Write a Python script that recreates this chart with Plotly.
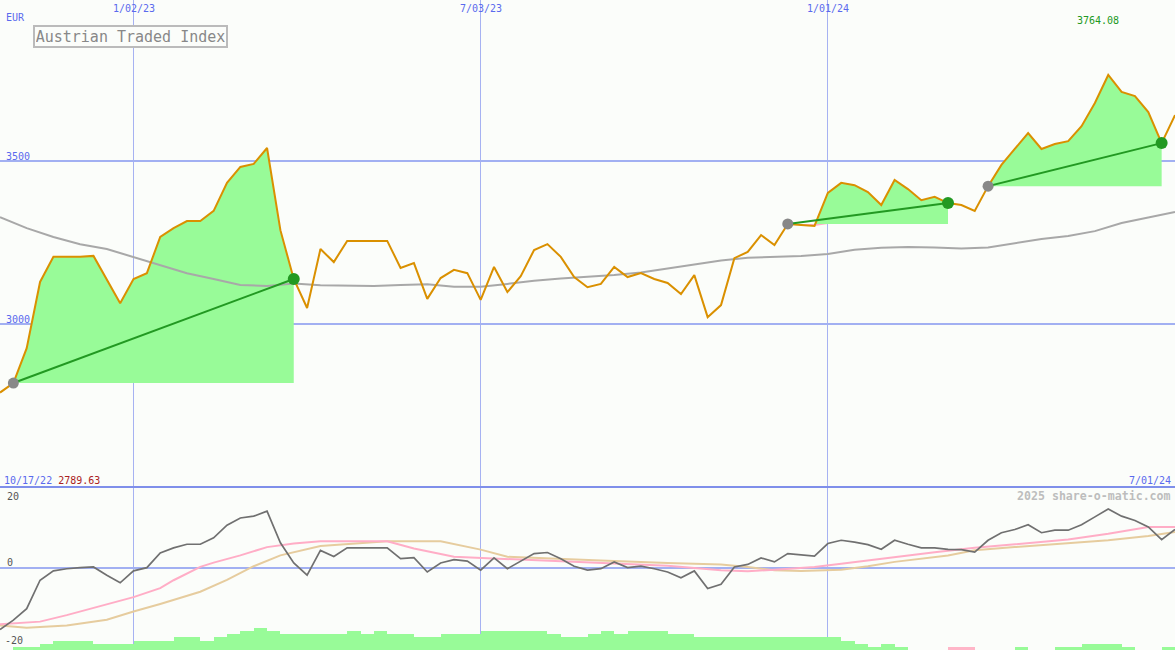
import pandas as pd
import plotly.graph_objects as go

# ---------------- data ----------------
start_date = "2022-10-24"          # week index 0 (chart left edge)
end_date = "2024-07-01"            # chart right edge
grid_dates = ["2023-01-02", "2023-07-03", "2024-01-01"]
grid_labels = ["1/02/23", "7/03/23", "1/01/24"]
left_label = "10/17/22"
right_label = "7/01/24"
low_value = 2789.63
high_value = 3764.08

# weekly close, index 0..88
price = [2789.63, 2819, 2926, 3129, 3206, 3206, 3206, 3209, 3135, 3064,
         3138, 3156, 3267, 3294, 3316, 3316, 3347, 3433, 3482, 3491,
         3540, 3288, 3138, 3049, 3230, 3190, 3255, 3255, 3255, 3255,
         3172, 3187, 3077, 3141, 3166, 3156, 3074, 3175, 3098, 3147,
         3227, 3245, 3206, 3144, 3113, 3123, 3175, 3144, 3156, 3138,
         3126, 3092, 3150, 3021, 3058, 3202, 3221, 3273, 3242, 3307,
         3304, 3301, 3402, 3433, 3426, 3405, 3365, 3442, 3414, 3380,
         3390, 3371, 3365, 3347, 3423, 3488, 3537, 3586, 3537, 3552,
         3561, 3607, 3678, 3764.08, 3712, 3699, 3650, 3555, 3641]

# 40-week moving average (read every 2 weeks)
ma_weeks = list(range(0, 89, 2))
ma_values = [3328, 3294, 3267, 3245, 3230, 3206, 3181, 3156, 3138, 3120,
             3117, 3124, 3119, 3117, 3117, 3120, 3122, 3114, 3114, 3123,
             3133, 3140, 3145, 3150, 3158, 3170, 3182, 3195, 3203, 3206,
             3209, 3215, 3228, 3234, 3236, 3235, 3232, 3235, 3248, 3261,
             3270, 3285, 3310, 3328, 3344]

# signal periods (week index of entry / exit)
signal_start_weeks = [1, 59, 74]
signal_end_weeks = [22, 71, 87]

# lower panel: momentum (weekly)
momentum = [-17.1, -14.5, -11.3, -3.4, -0.8, -0.2, 0.1, 0.3, -2.0, -4.1,
            -0.8, 0.1, 4.2, 5.6, 6.6, 6.6, 8.4, 11.9, 13.9, 14.4,
            15.8, 7.0, 1.4, -2.0, 4.9, 3.2, 5.6, 5.6, 5.6, 5.6,
            2.6, 2.9, -1.1, 1.4, 2.3, 1.9, -0.6, 2.8, -0.2, 1.9,
            4.0, 4.3, 2.6, 0.5, -0.6, -0.2, 1.7, 0.1, 0.5, -0.2,
            -1.1, -2.7, -0.8, -5.7, -4.5, 0.3, 1.0, 2.8, 1.7, 4.0,
            3.7, 3.3, 6.8, 7.7, 7.2, 6.5, 5.2, 7.7, 6.6, 5.6,
            5.6, 5.2, 5.1, 4.4, 7.7, 9.8, 10.7, 12.0, 9.8, 10.5,
            10.5, 12.0, 14.2, 16.4, 14.4, 13.2, 11.4, 7.9, 10.7]

pink_weeks = [0, 3, 5, 8, 10, 12, 13, 15, 16, 18, 20, 22, 24, 29, 31, 34, 36, 38,
              43, 47, 50, 54, 56, 58, 61, 63, 67, 70, 73, 76, 80, 83, 86, 88]
pink_values = [-15.6, -14.9, -13.1, -10.2, -8.1, -5.6, -3.4, 0.3, 1.5, 3.5, 5.8,
               6.8, 7.4, 7.4, 5.4, 3.1, 2.8, 2.3, 1.7, 1.0, 0.6, -0.6, -0.9,
               -0.5, 0.3, 1.2, 3.1, 4.4, 5.6, 6.6, 7.9, 9.5, 11.4, 11.4]

tan_weeks = [0, 2, 5, 8, 10, 12, 15, 17, 19, 21, 24, 27, 29, 33, 36, 38, 41, 45,
             50, 54, 56, 58, 60, 63, 65, 67, 71, 73, 76, 80, 83, 86, 88]
tan_values = [-16.0, -16.6, -16.0, -14.4, -12.1, -10.0, -6.6, -3.3, 0.5, 3.5,
              6.1, 7.0, 7.4, 7.4, 5.1, 3.1, 2.6, 2.1, 1.4, 1.0, 0.3, -0.6,
              -0.8, -0.5, 0.5, 1.7, 3.5, 4.9, 5.8, 6.8, 7.7, 8.9, 10.0]

# histogram levels per week (negative = pink)
hist_levels = [0, 1, 1, 2, 3, 3, 3, 2, 2, 2,
               3, 3, 3, 4, 4, 3, 4, 5, 6, 7,
               6, 5, 5, 5, 5, 5, 6, 5, 6, 5,
               5, 4, 4, 5, 5, 5, 6, 6, 6, 6,
               6, 5, 4, 4, 5, 6, 5, 6, 6, 6,
               5, 5, 4, 4, 4, 4, 4, 4, 4, 4,
               4, 4, 4, 3, 2, 1, 2, 1, 0, 0,
               0, -1, -1, 0, 0, 0, 1, 0, 0, 1,
               1, 2, 2, 2, 1, 0, 0, 1]

# ---------------- helpers ----------------
t0 = pd.Timestamp(start_date)
def wk(i):
    return t0 + pd.Timedelta(days=7 * i)

dates = [wk(i) for i in range(len(price))]

W, H = 1175, 650
def px(x):
    return x / W
def py(y):
    return 1 - y / H

BG = "#FBFDFA"
BLUE_TXT = "#5A6AEE"
GRID = "#A6B2F2"
MONO = "DejaVu Sans Mono, Liberation Mono, monospace"

fig = go.Figure()

# signal fills
for s, e in zip(signal_start_weeks, signal_end_weeks):
    base = price[s]
    xs = dates[s:e + 1]
    up = [max(p, base) for p in price[s:e + 1]]
    dn = [min(p, base) for p in price[s:e + 1]]
    fig.add_trace(go.Scatter(x=xs + [dates[e], dates[s]], y=up + [base, base],
                             fill="toself", fillcolor="#98FB98", mode="none",
                             hoverinfo="skip", xaxis="x", yaxis="y"))
    if min(dn) < base:
        fig.add_trace(go.Scatter(x=xs + [dates[e], dates[s]], y=dn + [base, base],
                                 fill="toself", fillcolor="#FFB0C8", mode="none",
                                 hoverinfo="skip", xaxis="x", yaxis="y"))

# moving average
fig.add_trace(go.Scatter(x=[wk(i) for i in ma_weeks], y=ma_values, mode="lines",
                         line=dict(color="#A8A8A8", width=2), xaxis="x", yaxis="y"))

# price
fig.add_trace(go.Scatter(x=dates, y=price, mode="lines",
                         line=dict(color="#DA9000", width=2), xaxis="x", yaxis="y"))

# trend lines and dots
for s, e in zip(signal_start_weeks, signal_end_weeks):
    fig.add_trace(go.Scatter(x=[dates[s], dates[e]], y=[price[s], price[e]], mode="lines",
                             line=dict(color="#229922", width=2), xaxis="x", yaxis="y"))
    fig.add_trace(go.Scatter(x=[dates[s]], y=[price[s]], mode="markers",
                             marker=dict(color="#888888", size=11), xaxis="x", yaxis="y"))
    fig.add_trace(go.Scatter(x=[dates[e]], y=[price[e]], mode="markers",
                             marker=dict(color="#229922", size=12), xaxis="x", yaxis="y"))

# lower panel histogram
fig.add_trace(go.Bar(x=[wk(i) for i in range(len(hist_levels))],
                     y=[abs(v) for v in hist_levels],
                     marker=dict(color=["#FFB6C8" if v < 0 else "#98FB98" for v in hist_levels],
                                 line=dict(width=0)),
                     width=7 * 86400000, offset=0, xaxis="x2", yaxis="y3"))

fig.add_trace(go.Scatter(x=[wk(i) for i in tan_weeks], y=tan_values, mode="lines",
                         line=dict(color="#E6CC9E", width=2), xaxis="x2", yaxis="y2"))
fig.add_trace(go.Scatter(x=[wk(i) for i in pink_weeks], y=pink_values, mode="lines",
                         line=dict(color="#FFADC6", width=2), xaxis="x2", yaxis="y2"))
fig.add_trace(go.Scatter(x=dates, y=momentum, mode="lines",
                         line=dict(color="#707070", width=1.7), xaxis="x2", yaxis="y2"))

split = py(487)
xrange_ = [start_date, end_date]
axis_common = dict(type="date", range=xrange_, tickvals=grid_dates, showgrid=True,
                   gridcolor=GRID, gridwidth=1, showticklabels=False, ticks="",
                   zeroline=False, showline=False, fixedrange=True)

fig.update_layout(
    width=W, height=H, margin=dict(l=0, r=0, t=0, b=0),
    paper_bgcolor=BG, plot_bgcolor=BG, showlegend=False,
    xaxis=dict(domain=[0, 1], anchor="y", **axis_common),
    xaxis2=dict(domain=[0, 1], anchor="y2", matches="x", **axis_common),
    yaxis=dict(domain=[split, 1], range=[2500, 3994], tickvals=[3000, 3500],
               showgrid=True, gridcolor="#A2B0F2", gridwidth=2, showticklabels=False,
               ticks="", zeroline=False, showline=False),
    yaxis2=dict(domain=[0, split], range=[-22.78, 22.5], tickvals=[0],
                showgrid=True, gridcolor="#A2B0F2", gridwidth=2, showticklabels=False,
                ticks="", zeroline=False, showline=False),
    yaxis3=dict(domain=[0, split], range=[0, 51.75], overlaying="y2", anchor="x2",
                showgrid=False, showticklabels=False, ticks="", zeroline=False,
                showline=False),
    bargap=0,
)

# separator line between panels
fig.add_shape(type="line", xref="paper", yref="paper", x0=0, x1=1, y0=split, y1=split,
              line=dict(color="#7F8FEA", width=2))

def txt(text, x, y, color, size=10, xanchor="left", xref="paper", **kw):
    fig.add_annotation(text=text, x=x, y=y, xref=xref, yref="paper",
                       xanchor=xanchor, yanchor="middle", showarrow=False,
                       font=dict(family=MONO, size=size, color=color), **kw)

for d, lab in zip(grid_dates, grid_labels):
    txt(lab, d, py(9), BLUE_TXT, xanchor="center", xref="x")
txt("EUR", px(4), py(18), BLUE_TXT)
txt("3500", px(4), py(156), BLUE_TXT)
txt("3000", px(4), py(319), BLUE_TXT)
txt(f"{high_value:.2f}", px(1121), py(21), "#229922", xanchor="right")
txt(f"<span style='color:{BLUE_TXT}'>{left_label}</span> "
    f"<span style='color:#AA2222'>{low_value:.2f}</span>", px(2), py(480), BLUE_TXT)
txt(right_label, px(1173), py(480), BLUE_TXT, xanchor="right")
txt("<b>2025 share-o-matic.com</b>", px(1173), py(496), "#BDBDBD", size=11.6, xanchor="right")
txt("20", px(5), py(496), "#555555")
txt("0", px(5), py(562), "#555555")
txt("-20", px(3), py(640), "#555555")

# title box
fig.add_annotation(text="Austrian Traded Index", x=px(33), y=py(25), xref="paper", yref="paper",
                   xanchor="left", yanchor="top", showarrow=False,
                   font=dict(family=MONO, size=15, color="#888888"),
                   bordercolor="#BBBBBB", borderwidth=2, borderpad=1, bgcolor=BG,
                   width=189, height=17)

fig.write_html("out.html",
               config={"displayModeBar": False, "staticPlot": True},
               post_script="document.body.style.margin='0px';"
                           "document.body.style.overflow='hidden';")
